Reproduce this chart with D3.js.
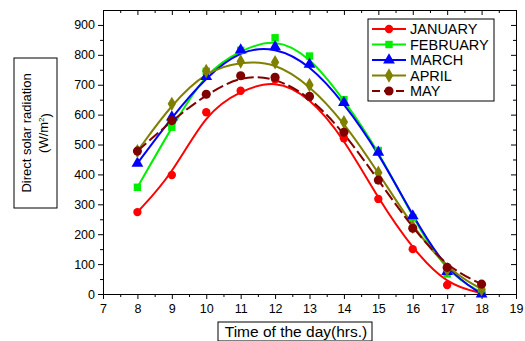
<!DOCTYPE html>
<html>
<head>
<meta charset="utf-8">
<script src="https://cdn.jsdelivr.net/npm/d3@7"></script>
<style>
  body { margin: 0; background: #fff; }
  text { font-family: "Liberation Sans", Arial, sans-serif; }
</style>
</head>
<body>
<svg id="chart" width="525" height="341"></svg>
<script>
const hours = [8, 9, 10, 11, 12, 13, 14, 15, 16, 17, 18]
const january = [274, 398, 608, 680, 718, 660, 521, 318, 150, 30, 3]
const february = [357, 558, 745, 815, 857, 796, 650, 480, 255, 67, 5]
const march = [437, 592, 727, 816, 827, 768, 640, 474, 261, 75, 0]
const april = [478, 636, 746, 778, 775, 699, 575, 406, 225, 82, 16]
const may = [478, 580, 668, 730, 725, 661, 541, 381, 220, 89, 33]
const seriesNames = ['JANUARY', 'FEBRUARY', 'MARCH', 'APRIL', 'MAY']
const xTicks = [7, 8, 9, 10, 11, 12, 13, 14, 15, 16, 17, 18, 19]
const yTicks = [0, 100, 200, 300, 400, 500, 600, 700, 800, 900]

const series = [
    { name: seriesNames[0], values: january, color: '#ff0000', symbol: d3.symbolCircle, size: 55, dash: null },
    { name: seriesNames[1], values: february, color: '#00ee00', symbol: d3.symbolSquare, size: 55, dash: null },
    { name: seriesNames[2], values: march, color: '#0000ff', symbol: d3.symbolTriangle, size: 60, dash: null },
    { name: seriesNames[3], values: april, color: '#808000', symbol: d3.symbolDiamond, size: 60, dash: null },
    { name: seriesNames[4], values: may, color: '#800000', symbol: d3.symbolCircle, size: 65, dash: '12,4' }
]

const svg = d3.select('#chart')
const margin = { top: 10, right: 9, bottom: 47, left: 103 }
const width = 525, height = 341
const innerW = width - margin.left - margin.right
const innerH = height - margin.top - margin.bottom

const x = d3.scaleLinear().domain([7, 19]).range([0, innerW])
const y = d3.scaleLinear().domain([0, 950]).range([innerH, 0])

const g = svg.append('g').attr('transform', `translate(${margin.left},${margin.top})`)

// minor ticks
const xMinor = d3.range(7.5, 19, 1)
const yMinor = d3.range(50, 950, 100)

// bottom axis
const bottomAxis = g.append('g').attr('transform', `translate(0,${innerH})`)
bottomAxis.call(d3.axisBottom(x).tickValues(xTicks).tickFormat(d3.format('d')).tickSize(5).tickSizeOuter(0))
bottomAxis.append('g').call(d3.axisBottom(x).tickValues(xMinor).tickSize(3).tickFormat('').tickSizeOuter(0))
    .select('.domain').remove()

// left axis
const leftAxis = g.append('g')
leftAxis.call(d3.axisLeft(y).tickValues(yTicks).tickSize(5).tickSizeOuter(0))
leftAxis.append('g').call(d3.axisLeft(y).tickValues(yMinor).tickSize(3).tickFormat('').tickSizeOuter(0))
    .select('.domain').remove()

// top axis (ticks inside)
const topAxis = g.append('g')
topAxis.call(d3.axisBottom(x).tickValues(xTicks).tickSize(5).tickFormat('').tickSizeOuter(0))
topAxis.append('g').call(d3.axisBottom(x).tickValues(xMinor).tickSize(3).tickFormat('').tickSizeOuter(0))

// right axis (ticks inside)
const rightAxis = g.append('g').attr('transform', `translate(${innerW},0)`)
rightAxis.call(d3.axisLeft(y).tickValues(yTicks).tickSize(5).tickFormat('').tickSizeOuter(0))
rightAxis.append('g').call(d3.axisLeft(y).tickValues(yMinor).tickSize(3).tickFormat('').tickSizeOuter(0))

g.selectAll('.tick text').style('font-size', '12.5px').attr('fill', '#000')
bottomAxis.selectAll('.tick text').attr('dy', '0.9em')
g.selectAll('.domain, .tick line').attr('stroke', '#000')

// lines
const line = d3.line()
    .x((d, i) => x(hours[i]))
    .y(d => y(d))
    .curve(d3.curveBasis)

series.forEach(s => {
    g.append('path')
        .datum(s.values)
        .attr('fill', 'none')
        .attr('stroke', s.color)
        .attr('stroke-width', 2)
        .attr('stroke-dasharray', s.dash)
        .attr('d', line)
})

series.forEach(s => {
    g.selectAll(null)
        .data(s.values)
        .enter()
        .append('path')
        .attr('transform', (d, i) => `translate(${x(hours[i])},${y(d)})`)
        .attr('d', d3.symbol().type(s.symbol).size(s.size))
        .attr('fill', s.color)
})

// legend
const legend = svg.append('g').attr('transform', 'translate(368,19)')
legend.append('rect')
    .attr('width', 126).attr('height', 82)
    .attr('fill', '#fff').attr('stroke', '#000').attr('stroke-width', 1)
series.forEach((s, i) => {
    const row = legend.append('g').attr('transform', `translate(0,${10 + i * 15.5})`)
    row.append('line')
        .attr('x1', 4).attr('x2', 38).attr('y1', 0).attr('y2', 0)
        .attr('stroke', s.color).attr('stroke-width', 2)
        .attr('stroke-dasharray', s.dash ? '8,4' : null)
    row.append('path')
        .attr('transform', 'translate(21,0)')
        .attr('d', d3.symbol().type(s.symbol).size(s.size))
        .attr('fill', s.color)
    row.append('text')
        .attr('x', 42).attr('y', 0).attr('dy', '0.36em')
        .style('font-size', '14.5px')
        .text(s.name)
})

// y label box
svg.append('rect')
    .attr('x', 14).attr('y', 58).attr('width', 43).attr('height', 150)
    .attr('fill', 'none').attr('stroke', '#000')
const ylab = svg.append('text')
    .attr('transform', 'translate(35,133) rotate(-90)')
    .attr('text-anchor', 'middle')
    .style('font-size', '13px')
ylab.append('tspan').attr('x', 0).attr('dy', '-0.3em').text('Direct solar radiation')
const unit = ylab.append('tspan').attr('x', 0).attr('dy', '1.3em').text('(W/m')
unit.append('tspan').attr('dy', '-0.45em').style('font-size', '8px').text('2')
unit.append('tspan').attr('dy', '0.45em').text(')')

// x label box
svg.append('rect')
    .attr('x', 218).attr('y', 322).attr('width', 154).attr('height', 19)
    .attr('fill', 'none').attr('stroke', '#000')
svg.append('text')
    .attr('x', 296).attr('y', 337)
    .attr('text-anchor', 'middle')
    .style('font-size', '15.5px')
    .text('Time of the day(hrs.)')
</script>
</body>
</html>
